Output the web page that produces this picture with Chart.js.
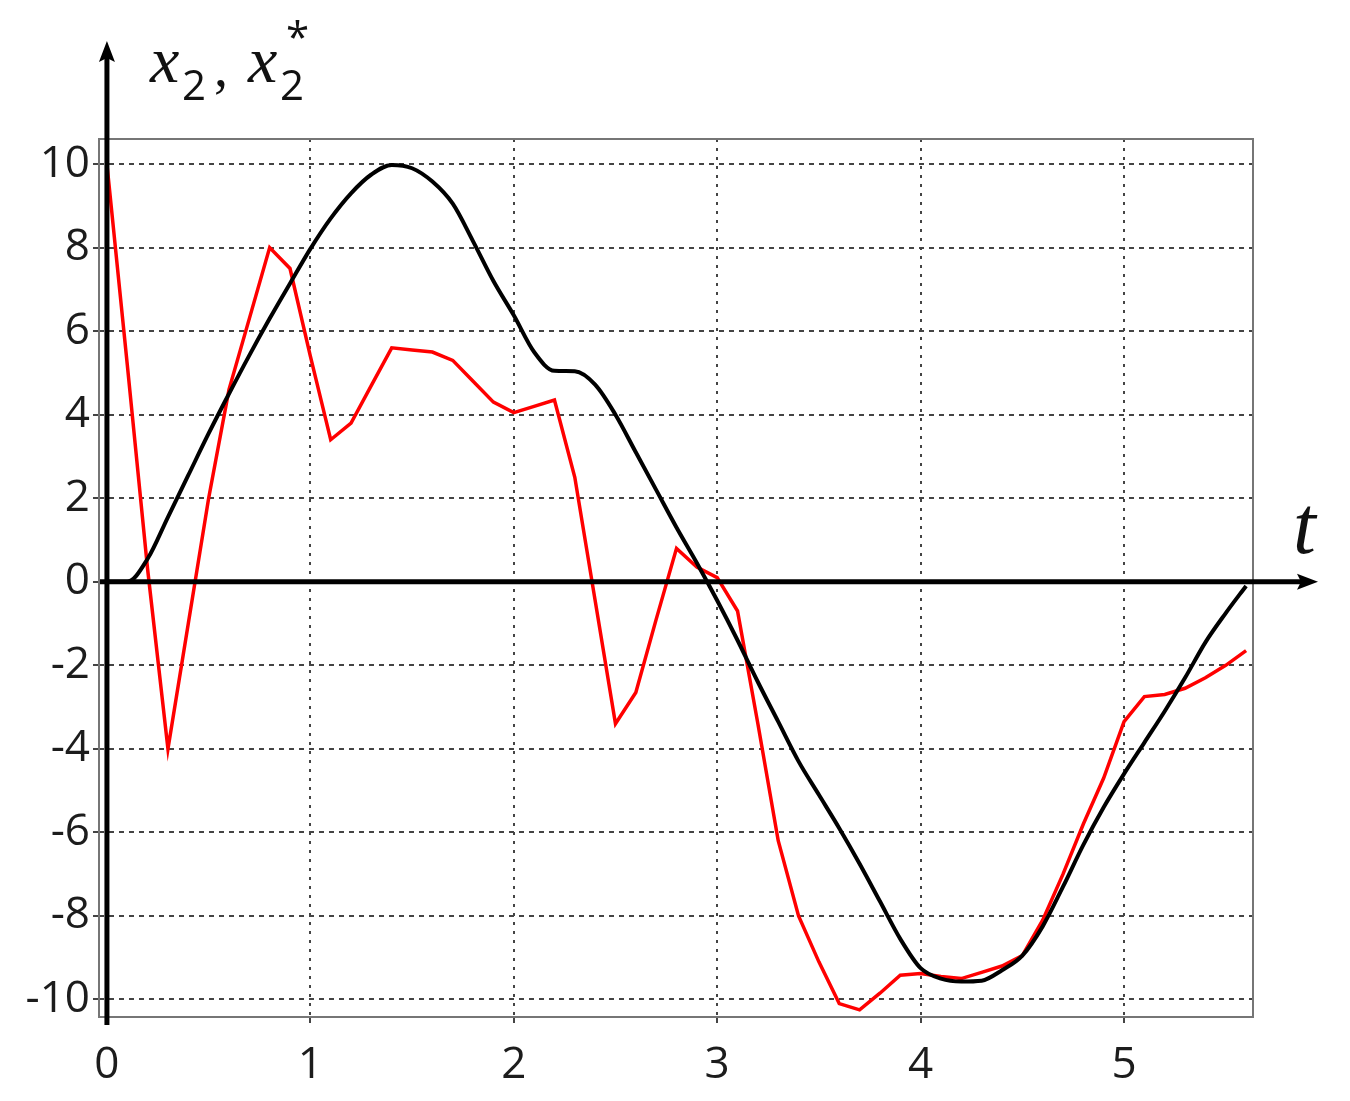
<!DOCTYPE html>
<html>
<head>
<meta charset="utf-8">
<script src="https://cdn.jsdelivr.net/npm/chart.js@4.4.1/dist/chart.umd.min.js"></script>
<style>
  html, body { margin: 0; padding: 0; background: #fff; }
  #wrap { width: 1350px; height: 1101px; }
</style>
</head>
<body>
<div id="wrap"><canvas id="plot" width="1350" height="1101"></canvas></div>
<script>
// time samples (t)
const times = [0, 0.1, 0.2, 0.3, 0.4, 0.5, 0.6, 0.7, 0.8, 0.9,
               1.0, 1.1, 1.2, 1.3, 1.4, 1.5, 1.6, 1.7, 1.8, 1.9,
               2.0, 2.1, 2.2, 2.3, 2.4, 2.5, 2.6, 2.7, 2.8, 2.9,
               3.0, 3.1, 3.2, 3.3, 3.4, 3.5, 3.6, 3.7, 3.8, 3.9,
               4.0, 4.1, 4.2, 4.3, 4.4, 4.5, 4.6, 4.7, 4.8, 4.9,
               5.0, 5.1, 5.2, 5.3, 5.4, 5.5, 5.6];

// x2 (red)
const x2 = [10, 5.2, 0.3, -4.0, -1.0, 2.0, 4.6, 6.3, 8.0, 7.5,
            5.4, 3.4, 3.8, 4.7, 5.6, 5.55, 5.5, 5.3, 4.8, 4.3,
            4.05, 4.2, 4.35, 2.5, -0.45, -3.4, -2.65, -0.9, 0.8, 0.35,
            0.1, -0.7, -3.4, -6.2, -8.0, -9.1, -10.1, -10.25, -9.85, -9.42,
            -9.38, -9.45, -9.5, -9.35, -9.2, -8.95, -8.1, -7.0, -5.8, -4.7,
            -3.35, -2.75, -2.7, -2.55, -2.3, -2.0, -1.65];

// x2* (black)
const x2ref = [0, 0, 0.55, 1.55, 2.55, 3.55, 4.5, 5.42, 6.3, 7.14,
               7.97, 8.7, 9.3, 9.75, 9.98, 9.9, 9.58, 9.05, 8.15, 7.2,
               6.38, 5.5, 5.05, 5.04, 4.72, 4.0, 3.1, 2.2, 1.3, 0.45,
               -0.45, -1.4, -2.4, -3.35, -4.3, -5.1, -5.9, -6.75, -7.65, -8.55,
               -9.25, -9.5, -9.57, -9.55, -9.3, -8.95, -8.25, -7.3, -6.3, -5.4,
               -4.6, -3.85, -3.1, -2.3, -1.45, -0.75, -0.1];

const xTicks = [0, 1, 2, 3, 4, 5];
const yTicks = [-10, -8, -6, -4, -2, 0, 2, 4, 6, 8, 10];

const tickFont = { family: '"Open Sans", "Noto Sans", sans-serif', size: 44 };

// frame box, thick axes with arrows, axis names
const axesPlugin = {
    id: 'axesArrows',
    beforeDatasetsDraw(chart) {
        const { ctx, chartArea: a } = chart;
        ctx.save();
        ctx.strokeStyle = '#767676';
        ctx.lineWidth = 2;
        ctx.strokeRect(a.left, a.top, a.right - a.left, a.bottom - a.top);
        ctx.restore();
    },
    afterDatasetsDraw(chart) {
        const { ctx, chartArea: a, scales } = chart;
        const x0 = scales.x.getPixelForValue(0);
        const y0 = scales.y.getPixelForValue(0);
        ctx.save();
        ctx.strokeStyle = '#000';
        ctx.fillStyle = '#000';
        ctx.lineWidth = 5;

        // vertical axis
        ctx.beginPath();
        ctx.moveTo(x0, a.bottom + 8);
        ctx.lineTo(x0, a.top - 82);
        ctx.stroke();
        ctx.beginPath();
        ctx.moveTo(x0, a.top - 98);
        ctx.lineTo(x0 - 8, a.top - 77);
        ctx.lineTo(x0, a.top - 81);
        ctx.lineTo(x0 + 8, a.top - 77);
        ctx.closePath();
        ctx.fill();

        // horizontal axis
        ctx.beginPath();
        ctx.moveTo(a.left + 1, y0);
        ctx.lineTo(a.right + 50, y0);
        ctx.stroke();
        ctx.beginPath();
        ctx.moveTo(a.right + 65, y0);
        ctx.lineTo(a.right + 44, y0 - 8);
        ctx.lineTo(a.right + 48, y0);
        ctx.lineTo(a.right + 44, y0 + 8);
        ctx.closePath();
        ctx.fill();

        // axis names
        ctx.fillStyle = '#111';
        ctx.textBaseline = 'alphabetic';
        ctx.textAlign = 'left';
        ctx.font = 'italic 82px "Liberation Serif", serif';
        ctx.fillText('t', a.right + 40, y0 - 29);

        ctx.font = 'italic 66px "Liberation Serif", serif';
        ctx.fillText('x', 150, 82);
        ctx.fillText('x', 248, 82);
        ctx.font = '42px "Open Sans", sans-serif';
        ctx.fillText('2', 182, 100);
        ctx.fillText('2', 280, 100);
        ctx.fillText('*', 286, 52);
        ctx.font = '56px "Liberation Serif", serif';
        ctx.fillText(',', 214, 86);
        ctx.restore();
    }
};

const data = {
    datasets: [
        {
            label: 'x2*',
            data: times.map((t, i) => ({ x: t, y: x2ref[i] })),
            borderColor: '#000000',
            borderWidth: 4,
            pointRadius: 0,
            cubicInterpolationMode: 'monotone',
            order: 1
        },
        {
            label: 'x2',
            data: times.map((t, i) => ({ x: t, y: x2[i] })),
            borderColor: '#ff0000',
            borderWidth: 3.5,
            pointRadius: 0,
            tension: 0,
            order: 2
        }
    ]
};

new Chart(document.getElementById('plot'), {
    type: 'line',
    data: data,
    plugins: [axesPlugin],
    options: {
        responsive: false,
        animation: false,
        devicePixelRatio: 1,
        layout: { padding: { left: 0, top: 139, right: 97, bottom: 0 } },
        plugins: {
            legend: { display: false },
            tooltip: { enabled: false }
        },
        scales: {
            x: {
                type: 'linear',
                min: -0.039,
                max: 5.634,
                afterFit: s => { s.height = 84; },
                afterBuildTicks: s => { s.ticks = xTicks.map(v => ({ value: v })); },
                border: { display: false, dash: [3, 6] },
                grid: { color: '#444', lineWidth: 2, tickLength: 6, tickColor: '#444' },
                ticks: {
                    color: '#1c1c1c',
                    font: tickFont,
                    padding: 16,
                    maxRotation: 0,
                    callback: v => String(v)
                }
            },
            y: {
                type: 'linear',
                min: -10.42,
                max: 10.6,
                afterFit: s => { s.width = 99; },
                afterBuildTicks: s => { s.ticks = yTicks.map(v => ({ value: v })); },
                border: { display: false, dash: [5, 5] },
                grid: { color: '#444', lineWidth: 2, tickLength: 6, tickColor: '#444' },
                ticks: {
                    color: '#1c1c1c',
                    font: tickFont,
                    padding: 3,
                    callback: v => String(v)
                }
            }
        }
    }
});
</script>
</body>
</html>
